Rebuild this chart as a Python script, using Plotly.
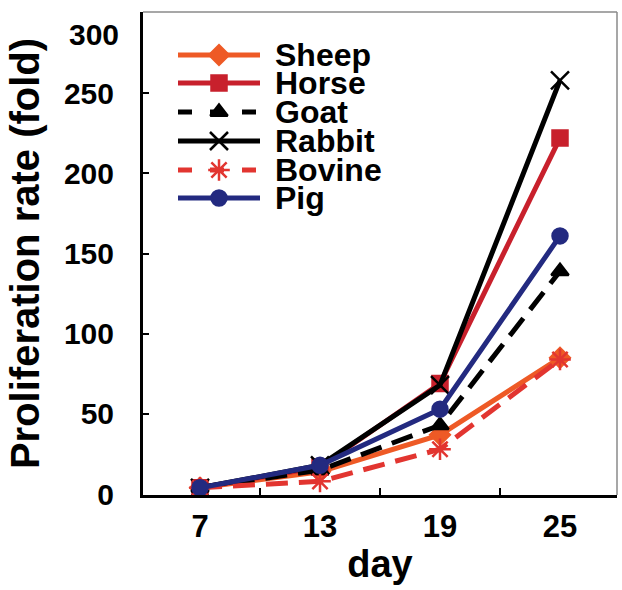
import plotly.graph_objects as go

days = [7, 13, 19, 25]
species = ["Sheep", "Horse", "Goat", "Rabbit", "Bovine", "Pig"]
sheep = [4, 14, 37, 85]
horse = [4, 17, 69, 222]
goat = [4, 15, 43, 139]
rabbit = [4, 18, 68, 258]
bovine = [4, 8, 28, 84]
pig = [4, 18, 53, 161]
y_ticks = [0, 50, 100, 150, 200, 250, 300]
x_ticks = [7, 13, 19, 25]
x_minor = [10, 16, 22]

series = [sheep, horse, goat, rabbit, bovine, pig]
colors = ["#ee5a26", "#c8202c", "#000000", "#000000", "#e23530", "#232a80"]
dashes = ["solid", "solid", "dash", "solid", "dash", "solid"]
symbols = ["diamond", "square", "triangle-up", "x-thin-open", "asterisk-open", "circle"]
msizes = [15, 15, 15, 18, 18, 15]

FONT = "Liberation Sans, Arial, Helvetica, sans-serif"
TICKFONT = dict(family=FONT, size=30, color="black", weight="bold")

fig = go.Figure()
for name, vals, c, d, s, ms in zip(species, series, colors, dashes, symbols, msizes):
    fig.add_trace(go.Scatter(
        x=days, y=vals, name=name, mode="lines+markers",
        line=dict(color=c, width=5, dash="22px,11px" if d == "dash" else None),
        marker=dict(symbol=s, size=ms, color=c, opacity=1, line=dict(color=c, width=2.5)),
        showlegend=False))

# Manual legend on an overlay axis in page-pixel units
row_y = [55, 83, 112, 141, 170, 198]
for name, c, d, s, ms, ry in zip(species, colors, dashes, symbols, msizes, row_y):
    fig.add_trace(go.Scatter(
        x=[178, 219, 260], y=[ry, ry, ry], mode="lines+markers",
        xaxis="x2", yaxis="y2", showlegend=False, hoverinfo="skip",
        line=dict(color=c, width=5, dash="14px,18px" if d == "dash" else None),
        marker=dict(symbol=s, size=[0, ms, 0], color=c, opacity=1,
                    line=dict(color=c, width=2.5))))
    fig.add_annotation(x=273, y=ry, xref="x2", yref="y2", text=name,
                       showarrow=False, xanchor="left", yanchor="middle",
                       font=dict(family=FONT, size=32, color="black", weight="bold"))

# Top y tick label is drawn just below the frame corner, as in the reference
top_tick = y_ticks[-1]
fig.add_annotation(x=0, xref="paper", y=top_tick, yref="y", text=str(top_tick),
                   showarrow=False, xanchor="right", yanchor="top",
                   xshift=-22, yshift=-3, font=TICKFONT)

fig.update_layout(
    width=622, height=590,
    margin=dict(l=143, r=5, t=12, b=95),
    paper_bgcolor="white", plot_bgcolor="white",
    font=dict(family=FONT, color="black", weight="bold"),
    xaxis=dict(
        range=[4.15, 27.85], tickvals=x_ticks, ticktext=[str(v) for v in x_ticks],
        ticks="", showgrid=False, zeroline=False, automargin=False,
        showline=True, linecolor="black", linewidth=3,
        tickfont=dict(family=FONT, size=31, color="black", weight="bold"),
        ticklabelstandoff=2,
        minor=dict(tickvals=x_minor, ticks="inside", ticklen=7, tickwidth=2, tickcolor="black"),
        title=dict(text="day", standoff=8,
                   font=dict(family=FONT, size=38, color="black", weight="bold")),
    ),
    yaxis=dict(
        range=[-0.5, 300.6], tickvals=y_ticks,
        ticktext=[str(v) if v != top_tick else "" for v in y_ticks],
        ticks="inside", ticklen=6, tickwidth=2, automargin=False,
        tickcolor="black", showgrid=False, zeroline=False,
        showline=True, linecolor="black", linewidth=3,
        tickfont=TICKFONT,
        ticklabelstandoff=20, ticklabeloverflow="allow",
        title=dict(text="Proliferation rate (fold)", standoff=12,
                   font=dict(family=FONT, size=40, color="black", weight="bold")),
    ),
    xaxis2=dict(overlaying="x", range=[143, 617], visible=False, fixedrange=True),
    yaxis2=dict(overlaying="y", range=[495, 12], visible=False, fixedrange=True),
    shapes=[
        dict(type="line", xref="paper", yref="paper", x0=0, x1=1, y0=1, y1=1,
             line=dict(color="#8a8a8a", width=1.5)),
        dict(type="line", xref="paper", yref="paper", x0=1, x1=1, y0=0, y1=1,
             line=dict(color="#8a8a8a", width=1.5)),
    ],
)

fig.write_html("out.html")
